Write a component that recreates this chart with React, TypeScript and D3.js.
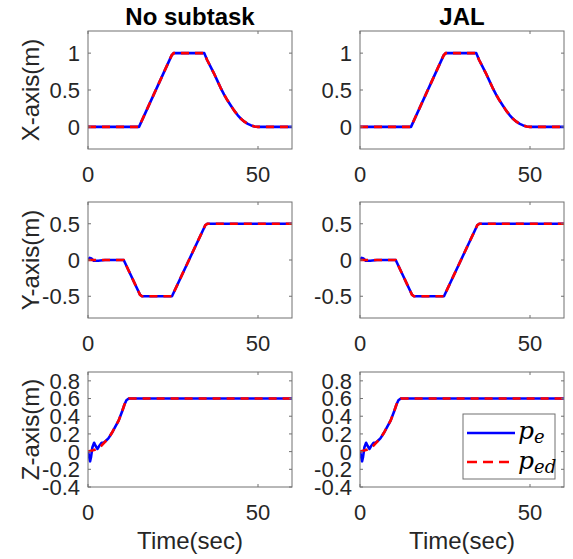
import React from "react";
import * as d3 from "d3";

// ---- data ----
const colTitles = ["No subtask", "JAL"];
const rowLabels = ["X-axis(m)", "Y-axis(m)", "Z-axis(m)"];
const xTickVals = [0, 50];

const xTime = [0, 15, 24.6, 25.2, 34.2, 35, 36, 37, 38, 39, 40, 41, 42, 43, 44, 45, 46, 47, 48, 49, 50, 60];
const xDesired = [0, 0, 0.97, 1, 1, 0.91, 0.82, 0.73, 0.63, 0.53, 0.44, 0.36, 0.29, 0.22, 0.16, 0.11, 0.07, 0.04, 0.02, 0.005, 0, 0];
const xActual = [0, 0, 0.97, 1, 1, 0.91, 0.82, 0.73, 0.63, 0.53, 0.44, 0.36, 0.29, 0.22, 0.16, 0.11, 0.07, 0.04, 0.02, 0.005, 0, 0];

const yTimeDes = [0, 10.5, 15.3, 15.9, 24.7, 34.5, 35.1, 60];
const yDesired = [0, 0, -0.48, -0.5, -0.5, 0.48, 0.5, 0.5];
const yTimeAct = [0, 0.5, 1, 1.7, 3, 5, 10.5, 15.3, 15.9, 24.7, 34.5, 35.1, 60];
const yActual = [0, 0.03, 0.02, -0.01, -0.01, 0, 0, -0.48, -0.5, -0.5, 0.48, 0.5, 0.5];

const zTimeDes = [0, 2, 3, 4, 5, 6, 7, 8, 9, 10, 10.7, 11.3, 12, 60];
const zDesired = [0, 0.02, 0.04, 0.07, 0.11, 0.15, 0.21, 0.28, 0.35, 0.45, 0.53, 0.58, 0.6, 0.6];
const zTimeAct = [0, 0.3, 0.6, 0.9, 1.3, 1.8, 2.3, 2.8, 3.4, 4, 4.6, 5.2, 6, 7, 8, 9, 10, 10.7, 11.3, 12, 60];
const zActual = [0, -0.05, -0.11, -0.06, 0.05, 0.1, 0.06, 0.03, 0.07, 0.1, 0.1, 0.12, 0.15, 0.21, 0.28, 0.35, 0.45, 0.53, 0.58, 0.6, 0.6];

const xYTicks = [0, 0.5, 1];
const yYTicks = [-0.5, 0, 0.5];
const zYTicks = [-0.4, -0.2, 0, 0.2, 0.4, 0.6, 0.8];
const legendLabels = [["p", "e"], ["p", "ed"]];

// ---- layout ----
const W = 573, H = 559;
const colX = [88, 360];
const plotW = 204;
const rowY = [[31, 149], [202, 318], [372, 487]];
const yDomains: [number, number][] = [[-0.3, 1.3], [-0.8, 0.8], [-0.4, 0.9]];
const axisColor = "#707070";
const textColor = "#262626";
const FONT = "'Liberation Sans', Arial, Helvetica, sans-serif";
const LW = 2.6;

const rows = [
  { ticks: xYTicks, desT: xTime, des: xDesired, actT: xTime, act: xActual },
  { ticks: yYTicks, desT: yTimeDes, des: yDesired, actT: yTimeAct, act: yActual },
  { ticks: zYTicks, desT: zTimeDes, des: zDesired, actT: zTimeAct, act: zActual },
];

function fmt(v: number) {
  return String(Math.round(v * 10) / 10);
}

function Panel({ r, c }: { r: number; c: number }) {
  const row = rows[r];
  const x0 = colX[c];
  const [top, bottom] = rowY[r];
  const xs = d3.scaleLinear().domain([0, 60]).range([x0, x0 + plotW]);
  const ys = d3.scaleLinear().domain(yDomains[r]).range([bottom, top]);
  const line = d3.line<[number, number]>().x((d) => xs(d[0])).y((d) => ys(d[1]));
  const desPts = row.desT.map((t, i) => [t, row.des[i]] as [number, number]);
  const actPts = row.actT.map((t, i) => [t, row.act[i]] as [number, number]);
  const clipId = `clip-${r}-${c}`;
  const tl = 3;
  return (
    <g>
      <defs>
        <clipPath id={clipId}>
          <rect x={x0} y={top} width={plotW} height={bottom - top} />
        </clipPath>
      </defs>
      <rect x={x0} y={top} width={plotW} height={bottom - top} fill="white" />
      <g clipPath={`url(#${clipId})`}>
        <path d={line(actPts) || ""} fill="none" stroke="#0000ff" strokeWidth={LW} strokeLinejoin="round" />
        <path d={line(desPts) || ""} fill="none" stroke="#ff0000" strokeWidth={LW} strokeDasharray="8,6" />
      </g>
      <rect x={x0} y={top} width={plotW} height={bottom - top} fill="none" stroke={axisColor} strokeWidth={1} />
      {row.ticks.map((t) => (
        <g key={"y" + t}>
          <line x1={x0} x2={x0 + tl} y1={ys(t)} y2={ys(t)} stroke={axisColor} />
          <line x1={x0 + plotW} x2={x0 + plotW - tl} y1={ys(t)} y2={ys(t)} stroke={axisColor} />
          <text x={x0 - 8} y={ys(t)} dy="0.36em" textAnchor="end" fontSize={22} fill={textColor} fontFamily={FONT}>
            {fmt(t)}
          </text>
        </g>
      ))}
      {xTickVals.map((t) => (
        <g key={"x" + t}>
          <line x1={xs(t)} x2={xs(t)} y1={bottom} y2={bottom - tl} stroke={axisColor} />
          <line x1={xs(t)} x2={xs(t)} y1={top} y2={top + tl} stroke={axisColor} />
          <text x={xs(t)} y={bottom + 33} textAnchor="middle" fontSize={22} fill={textColor} fontFamily={FONT}>
            {t}
          </text>
        </g>
      ))}
      {c === 0 && (
        <text
          transform={`translate(39,${(top + bottom) / 2}) rotate(-90)`}
          textAnchor="middle"
          fontSize={24}
          fill={textColor}
          fontFamily={FONT}
        >
          {rowLabels[r]}
        </text>
      )}
      {r === 0 && (
        <text x={x0 + plotW / 2} y={25} textAnchor="middle" fontSize={24} fontWeight="bold" fill="#000" fontFamily={FONT}>
          {colTitles[c]}
        </text>
      )}
      {r === 2 && (
        <text x={x0 + plotW / 2} y={549} textAnchor="middle" fontSize={24} fill={textColor} fontFamily={FONT}>
          Time(sec)
        </text>
      )}
    </g>
  );
}

function Legend() {
  const lx = 463, ly = 414, lw = 92, lh = 65;
  const entries = [
    { y: 433, color: "#0000ff", dash: undefined as string | undefined, tb: 439 },
    { y: 462, color: "#ff0000", dash: "10,6", tb: 469 },
  ];
  return (
    <g>
      <rect x={lx} y={ly} width={lw} height={lh} fill="white" stroke={axisColor} strokeWidth={1} />
      {entries.map((e, i) => (
        <g key={i}>
          <line x1={467} x2={515} y1={e.y} y2={e.y} stroke={e.color} strokeWidth={LW} strokeDasharray={e.dash} />
          <text x={518} y={e.tb} fontFamily="'DejaVu Serif', 'Liberation Serif', serif" fontStyle="italic" fontSize={25} fill="#000">
            {legendLabels[i][0]}
            <tspan fontSize={18} dy={4}>{legendLabels[i][1]}</tspan>
          </text>
        </g>
      ))}
    </g>
  );
}

export default function App() {
  return (
    <svg width={W} height={H} style={{ position: "absolute", left: 0, top: 0, background: "white" }}>
      <rect x={0} y={0} width={W} height={H} fill="white" />
      {[0, 1, 2].map((r) => [0, 1].map((c) => <Panel key={`${r}-${c}`} r={r} c={c} />))}
      <Legend />
    </svg>
  );
}
